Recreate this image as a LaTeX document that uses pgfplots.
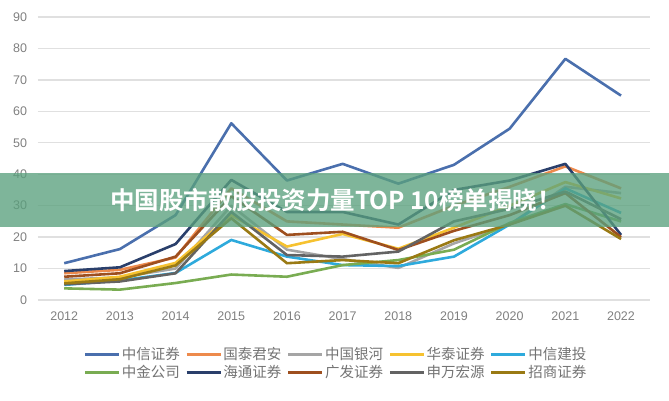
\documentclass[border=0pt]{standalone}
\usepackage{pgfplots}
\pgfplotsset{compat=1.18}
\usepackage{fontspec}
\setmainfont{Liberation Sans}
\newfontfamily\cjk{Noto Sans CJK SC}
\newfontfamily\cjkbold{Noto Sans CJK SC Bold}
\definecolor{czx}{HTML}{4A6FAD}
\definecolor{cgt}{HTML}{ED8A4C}
\definecolor{cyh}{HTML}{A5A5A5}
\definecolor{cht}{HTML}{F6C230}
\definecolor{cjt}{HTML}{2EAADC}
\definecolor{czj}{HTML}{79AC52}
\definecolor{cha}{HTML}{2A3F6B}
\definecolor{cgf}{HTML}{9E4F1F}
\definecolor{csw}{HTML}{636363}
\definecolor{czs}{HTML}{9A7A14}
\definecolor{banner}{RGB}{90,160,125}
\begin{document}
\begin{tikzpicture}[x=1pt,y=1pt]
\useasboundingbox (0,0) rectangle (669,400);
\begin{axis}[
  at={(37.5pt,100pt)}, anchor=south west,
  scale only axis, width=612.5pt, height=283pt,
  xmin=2011.52, xmax=2022.52, ymin=0, ymax=90,
  xtick={2012,...,2022}, ytick={0,10,...,90},
  ymajorgrids, major grid style={draw=black!12, line width=1.3pt},
  axis line style={draw=none}, tick style={draw=none},
  /pgf/number format/assume math mode=true,
  /pgf/number format/1000 sep={},
  ticklabel style={font=\fontsize{12.5}{14}\selectfont, text=black!50},
  x tick label style={yshift=-8pt},
  y tick label style={xshift=-7pt},
  every axis plot/.append style={line width=2.6pt, line join=round, no markers},
  legend columns=5,
  legend cell align=left,
  legend image code/.code={\draw[#1, line width=2.6pt] (0pt,0pt) -- (34pt,0pt);},
  legend style={at={(0.487,-0.224)}, anchor=center, draw=none, fill=none,
    font=\cjk\fontsize{14.5}{16}\selectfont, text=black!55,
    row sep=1pt,
    nodes={inner sep=1.5pt},
    /tikz/every even column/.append style={column sep=4pt}},
]
\addplot[czx] coordinates {(2012,11.7)(2013,16.2)(2014,27)(2015,56.2)(2016,38)(2017,43.3)(2018,37)(2019,43)(2020,54.5)(2021,76.7)(2022,65)};
\addlegendentry{中信证券}
\addplot[cgt] coordinates {(2012,8.5)(2013,9.6)(2014,13.5)(2015,35.5)(2016,25)(2017,24)(2018,23)(2019,30)(2020,36)(2021,42.5)(2022,35.5)};
\addlegendentry{国泰君安}
\addplot[cyh] coordinates {(2012,6.5)(2013,7.2)(2014,10)(2015,30)(2016,16)(2017,13)(2018,10.2)(2019,18)(2020,24)(2021,36)(2022,34)};
\addlegendentry{中国银河}
\addplot[cht] coordinates {(2012,5.9)(2013,7.4)(2014,11.8)(2015,27)(2016,17)(2017,21)(2018,16.3)(2019,23)(2020,30)(2021,37.5)(2022,32.3)};
\addlegendentry{华泰证券}
\addplot[cjt] coordinates {(2012,4.8)(2013,6.2)(2014,8.6)(2015,19.1)(2016,13.8)(2017,11.1)(2018,10.8)(2019,13.8)(2020,24)(2021,35.5)(2022,27.7)};
\addlegendentry{中信建投}
\addplot[czj] coordinates {(2012,3.7)(2013,3.3)(2014,5.4)(2015,8.1)(2016,7.4)(2017,11.1)(2018,12.7)(2019,16)(2020,24.5)(2021,30.5)(2022,25)};
\addlegendentry{中金公司}
\addplot[cha] coordinates {(2012,9.2)(2013,10.4)(2014,17.8)(2015,38.2)(2016,28)(2017,28)(2018,24)(2019,35)(2020,38)(2021,43.3)(2022,20.7)};
\addlegendentry{海通证券}
\addplot[cgf] coordinates {(2012,7.4)(2013,8.5)(2014,13.8)(2015,33)(2016,20.7)(2017,21.7)(2018,15.9)(2019,22)(2020,27)(2021,34)(2022,20)};
\addlegendentry{广发证券}
\addplot[csw] coordinates {(2012,5.0)(2013,5.9)(2014,8.5)(2015,28)(2016,14.3)(2017,13.8)(2018,15.4)(2019,25)(2020,29)(2021,34.5)(2022,25.7)};
\addlegendentry{申万宏源}
\addplot[czs] coordinates {(2012,5.3)(2013,6.6)(2014,11)(2015,26)(2016,11.7)(2017,12.7)(2018,11.7)(2019,19)(2020,24)(2021,30)(2022,19.4)};
\addlegendentry{招商证券}
\end{axis}
\fill[banner, fill opacity=0.78] (0,173) rectangle (669,227);
\node[text=white, font=\cjkbold\fontsize{24.5}{26}\selectfont, inner sep=0pt] at (336,200) {中国股市散股投资力量TOP 10榜单揭晓！};
\end{tikzpicture}
\end{document}
